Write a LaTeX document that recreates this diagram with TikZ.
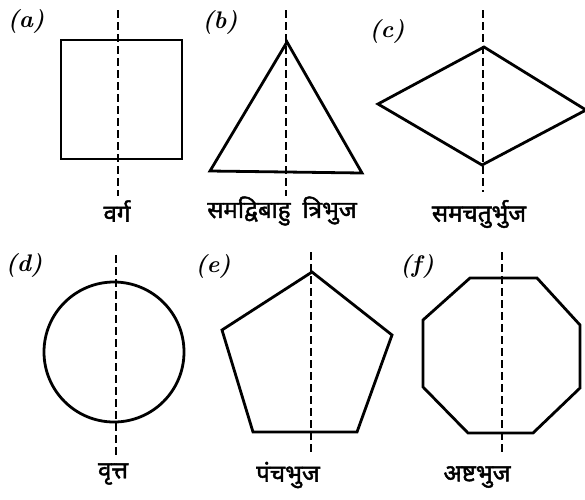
\documentclass[tikz,border=0pt]{standalone}
\usepackage{fontspec}
\usepackage{tikz}
\usetikzlibrary{positioning}
\newfontfamily\hindi[Script=Devanagari,FakeBold=1.8]{Noto Sans}
\tikzset{
  shapeLine/.style={line width=2.8pt, line join=miter},
  axisLine/.style={line width=2.8pt, dash pattern=on 7.5pt off 4.5pt},
  partLabel/.style={font=\bfseries\itshape\fontsize{24}{24}\selectfont, inner sep=0pt},
  nameLabel/.style={font=\hindi\fontsize{24}{24}\selectfont, inner sep=0pt}
}
\begin{document}
\begin{tikzpicture}[x=1pt, y=-1pt]
  \useasboundingbox (0,0) rectangle (585,499);

  % (a) square
  \node[partLabel] (labA) at (26,21) {(a)};
  \draw[shapeLine] (61,40) rectangle (182,159);
  \draw[axisLine] (118,10) -- (118,196);
  \node[nameLabel] (nameA) at (117,211) {वर्ग};

  % (b) isosceles triangle
  \node[partLabel] (labB) at (220,22) {(b)};
  \draw[shapeLine] (287,42) -- (210,171) -- (362,173) -- cycle;
  \draw[axisLine] (286,10) -- (286,196);
  \node[nameLabel] (nameB) at (282,211) {समद्विबाहु\hspace{0.5em}त्रिभुज};

  % (c) rhombus
  \node[partLabel] (labC) at (387,31) {(c)};
  \draw[shapeLine] (484,47) -- (378,104) -- (482,165) -- (586,110) -- cycle;
  \draw[axisLine] (483,10) -- (483,192);
  \node[nameLabel] (nameC) at (479,214) {समचतुर्भुज};

  % (d) circle
  \node[partLabel] (labD) at (24,265) {(d)};
  \draw[shapeLine] (114,352) circle (70);
  \draw[axisLine] (116,255) -- (116,455);
  \node[nameLabel] (nameD) at (113,474) {वृत्त};

  % (e) pentagon
  \node[partLabel] (labE) at (213,266) {(e)};
  \draw[shapeLine] (312,272) -- (222,330) -- (253,432) -- (357,432) -- (392,335) -- cycle;
  \draw[axisLine] (311,252) -- (311,455);
  \node[nameLabel] (nameE) at (288,475) {पंचभुज};

  % (f) octagon
  \node[partLabel] (labF) at (417,266) {(f)};
  \draw[shapeLine] (470,278) -- (537,278) -- (580,325) -- (580,388)
    -- (533,433) -- (468,433) -- (423,387) -- (423,320) -- cycle;
  \draw[axisLine] (502,252) -- (502,455);
  \node[nameLabel] (nameF) at (477,477) {अष्टभुज};
\end{tikzpicture}
\end{document}
